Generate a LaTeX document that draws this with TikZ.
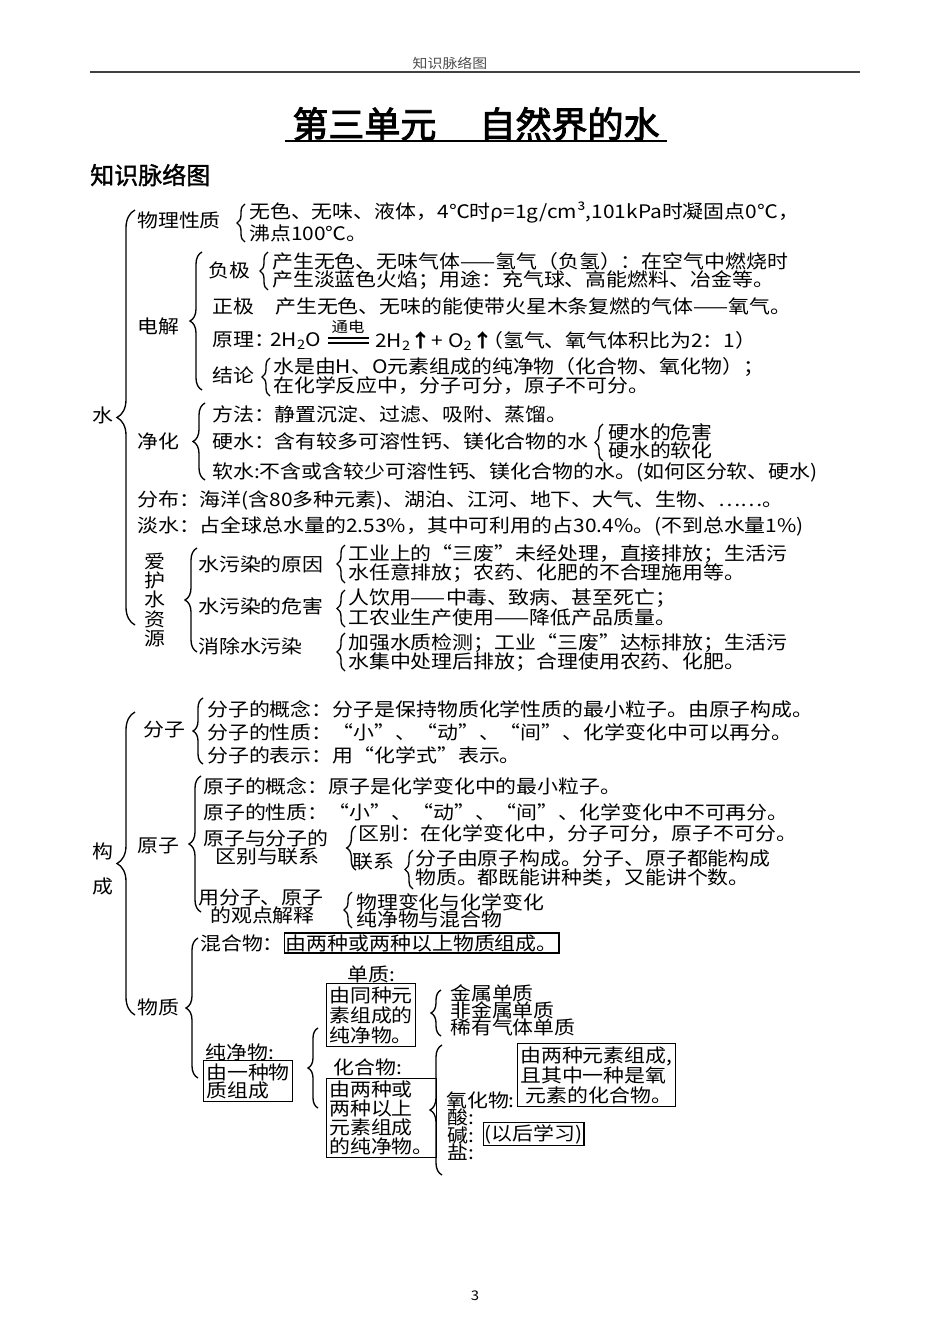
\documentclass[tikz,border=0pt]{standalone}
\usepackage{fontspec}
\setmainfont{Noto Sans CJK SC}[FakeStretch=1.12]
\newfontfamily\titlefont{Noto Sans CJK SC}[FakeBold=2.5]
\newfontfamily\subfont{Noto Sans CJK SC}[FakeBold=1.5]
\usetikzlibrary{decorations.pathreplacing}
\newcommand\fs{\fontsize{14pt}{15pt}\selectfont}
\newcommand\fsm{\fontsize{11pt}{12pt}\selectfont}
\tikzset{
  txt/.style={anchor=west, inner sep=0pt, font=\fs},
  ctxt/.style={anchor=center, inner sep=0pt, font=\fs},
  brc/.style={decorate, decoration={brace, amplitude=#1}, line width=1pt},
  bx/.style={draw, line width=0.8pt, inner sep=2pt, anchor=west, align=left, font=\fs},
}
\begin{document}
\begin{tikzpicture}[x=0.75pt, y=-0.75pt]
\useasboundingbox (0,0) rectangle (950,1344);
% header
\node[inner sep=0pt, font=\fontsize{10pt}{11pt}\selectfont, text=black!70] (hd) at (450,63) {知识脉络图};
\coordinate (hl) at (90,72); \coordinate (hr) at (860,72);
\draw[line width=1.5pt, black!75] (hl) -- (hr);
% title
\node[inner sep=0pt, font=\fontsize{27pt}{30pt}\titlefont] (title) at (476,124) {第三单元\hspace{1.2em}自然界的水};
\coordinate (ul) at (285,141); \coordinate (ur) at (667,141);
\draw[line width=2pt] (ul) -- (ur);
\node[txt, font=\fontsize{18pt}{20pt}\subfont] (sub) at (90,175) {知识脉络图};

% ===== water =====
\node[ctxt] (shui) at (103,415) {水};
\draw[brc=13.5pt] (135,625) -- (135,210);

\node[txt] (wl) at (137,220) {物理性质};
\draw[brc=6pt] (245,242) -- (245,204);
\node[txt] (wl1) at (249,213) {无色、无味、液体，4℃时ρ=1g/cm³,101kPa时凝固点0℃，};
\node[txt] (wl2) at (249,233) {沸点100℃。};

\node[txt] (dj) at (137,326) {电解};
\draw[brc=9pt] (202,390) -- (202,252);
\node[txt] (fj) at (208,270) {负极};
\draw[brc=6pt] (268,290) -- (268,252);
\node[txt] (fj1) at (272,261) {产生无色、无味气体——氢气（负氢）：在空气中燃烧时};
\node[txt] (fj2) at (272,280) {产生淡蓝色火焰；用途：充气球、高能燃料、冶金等。};
\node[txt] (zj) at (212,306) {正极};
\node[txt] (zj1) at (275,306) {产生无色、无味的能使带火星木条复燃的气体——氧气。};
\node[txt] (yl) at (212,340) {原理：};
\node[txt] (eq1) at (270,341) {2H\textsubscript{2}O};
\coordinate (e1a) at (328,338); \coordinate (e1b) at (369,338);
\coordinate (e2a) at (328,343); \coordinate (e2b) at (369,343);
\draw[line width=0.9pt] (e1a) -- (e1b) (e2a) -- (e2b);
\node[inner sep=0pt, font=\fsm] (td) at (348,327) {通电};
\node[txt] (eq2) at (375,341) {2H\textsubscript{2}{\bfseries↑}+ O\textsubscript{2}{\bfseries↑}};
\node[txt] (eq3) at (482,340) {（氢气、氧气体积比为2：1）};
\node[txt] (jl) at (212,375) {结论};
\draw[brc=6pt] (270,396) -- (270,358);
\node[txt] (jl1) at (273,367) {水是由H、O元素组成的纯净物（化合物、氧化物）；};
\node[txt] (jl2) at (273,386) {在化学反应中，分子可分，原子不可分。};

\node[txt] (jh) at (137,441) {净化};
\draw[brc=9pt] (205,480) -- (205,403);
\node[txt] (ff) at (212,414) {方法：静置沉淀、过滤、吸附、蒸馏。};
\node[txt] (ys) at (212,441) {硬水：含有较多可溶性钙、镁化合物的水};
\draw[brc=6pt] (603,461) -- (603,424);
\node[txt] (ys1) at (608,432) {硬水的危害};
\node[txt] (ys2) at (608,450) {硬水的软化};
\node[txt] (rs) at (212,472) {软水:不含或含较少可溶性钙、镁化合物的水。(如何区分软、硬水)};
\node[txt] (fb) at (137,500) {分布：海洋(含80多种元素)、湖泊、江河、地下、大气、生物、……。};
\node[txt] (ds) at (137,526) {淡水：占全球总水量的2.53\%，其中可利用的占30.4\%。(不到总水量1\%)};

\node[ctxt, align=center, font=\fontsize{14pt}{14.3pt}\selectfont] (ah) at (155,600) {爱\\护\\水\\资\\源};
\draw[brc=9pt] (197,652) -- (197,548);
\node[txt] (wr) at (198,564) {水污染的原因};
\draw[brc=6pt] (345,583) -- (345,545);
\node[txt] (wr1) at (348,554) {工业上的“三废”未经处理，直接排放；生活污};
\node[txt] (wr2) at (348,573) {水任意排放；农药、化肥的不合理施用等。};
\node[txt] (wh) at (198,606) {水污染的危害};
\draw[brc=6pt] (345,627) -- (345,590);
\node[txt] (wh1) at (348,598) {人饮用——中毒、致病、甚至死亡；};
\node[txt] (wh2) at (348,617) {工农业生产使用——降低产品质量。};
\node[txt] (xc) at (198,646) {消除水污染};
\draw[brc=6pt] (345,671) -- (345,633);
\node[txt] (xc1) at (348,643) {加强水质检测；工业“三废”达标排放；生活污};
\node[txt] (xc2) at (348,662) {水集中处理后排放；合理使用农药、化肥。};

% ===== composition =====
\node[ctxt] (gou) at (103,851) {构};
\node[ctxt] (cheng) at (103,886) {成};
\draw[brc=13.5pt] (135,1015) -- (135,712);

\node[txt] (fz) at (143,730) {分子};
\draw[brc=7.5pt] (203,764) -- (203,698);
\node[txt] (fz1) at (207,709) {分子的概念：分子是保持物质化学性质的最小粒子。由原子构成。};
\node[txt] (fz2) at (207,732) {分子的性质：“小”、“动”、“间”、化学变化中可以再分。};
\node[txt] (fz3) at (207,755) {分子的表示：用“化学式”表示。};

\node[txt] (yz) at (137,846) {原子};
\draw[brc=9pt] (201,912) -- (201,776);
\node[txt] (yz1) at (203,786) {原子的概念：原子是化学变化中的最小粒子。};
\node[txt] (yz2) at (203,812) {原子的性质：“小”、“动”、“间”、化学变化中不可再分。};
\node[txt] (yz3a) at (203,838) {原子与分子的};
\node[txt] (yz3b) at (215,857) {区别与联系};
\draw[brc=7pt] (356,870) -- (356,826);
\node[txt] (qb) at (358,834) {区别：在化学变化中，分子可分，原子不可分。};
\node[txt] (lx) at (352,862) {联系};
\draw[brc=6pt] (413,889) -- (413,850);
\node[txt] (lx1) at (415,858) {分子由原子构成。分子、原子都能构成};
\node[txt] (lx2) at (415,878) {物质。都既能讲种类，又能讲个数。};
\node[txt] (yz4a) at (198,898) {用分子、原子};
\node[txt] (yz4b) at (210,915) {的观点解释};
\draw[brc=6pt] (352,928) -- (352,892);
\node[txt] (js1) at (356,902) {物理变化与化学变化};
\node[txt] (js2) at (356,919) {纯净物与混合物};

\node[txt] (wz) at (137,1007) {物质};
\draw[brc=9pt] (198,1078) -- (198,938);
\node[txt] (hh) at (200,943) {混合物：};
\node[bx, inner sep=1pt] (hhb) at (284,943) {由两种或两种以上物质组成。};
\node[ctxt] (cj) at (240,1052) {纯净物:};
\node[bx, font=\fontsize{14pt}{13.5pt}\selectfont] (cjb) at (203,1081) {由一种物\\质组成};
\draw[brc=7.5pt] (318,1108) -- (318,1028);
\node[ctxt] (dz) at (371,974) {单质:};
\node[bx, font=\fontsize{14pt}{15pt}\selectfont] (dzb) at (326,1015) {由同种元\\素组成的\\纯净物。};
\draw[brc=7.5pt] (441,1036) -- (441,990);
\node[txt] (dz1) at (450,993) {金属单质};
\node[txt] (dz2) at (450,1010) {非金属单质};
\node[txt] (dz3) at (450,1027) {稀有气体单质};
\node[ctxt] (hw) at (368,1067) {化合物:};
\node[bx, font=\fontsize{14pt}{14.25pt}\selectfont] (hwb) at (326,1118) {由两种或\\两种以上\\元素组成\\的纯净物。};
\draw[brc=9pt] (442,1175) -- (442,1045);
\node[txt] (yh) at (446,1100) {氧化物:};
\node[bx, font=\fontsize{14pt}{15pt}\selectfont] (yhb) at (517,1075) {由两种元素组成,\\且其中一种是氧\\\hspace{0.3em}元素的化合物。};
\node[txt] (suan) at (447,1117) {酸:};
\node[txt] (jian) at (447,1135) {碱:};
\node[txt] (yan) at (447,1152) {盐:};
\node[bx, inner sep=1pt] (yhxx) at (483,1134) {(以后学习)};

\node[inner sep=0pt, font=\fontsize{10pt}{11pt}\selectfont] (pg) at (475,1296) {3};
\end{tikzpicture}
\end{document}
